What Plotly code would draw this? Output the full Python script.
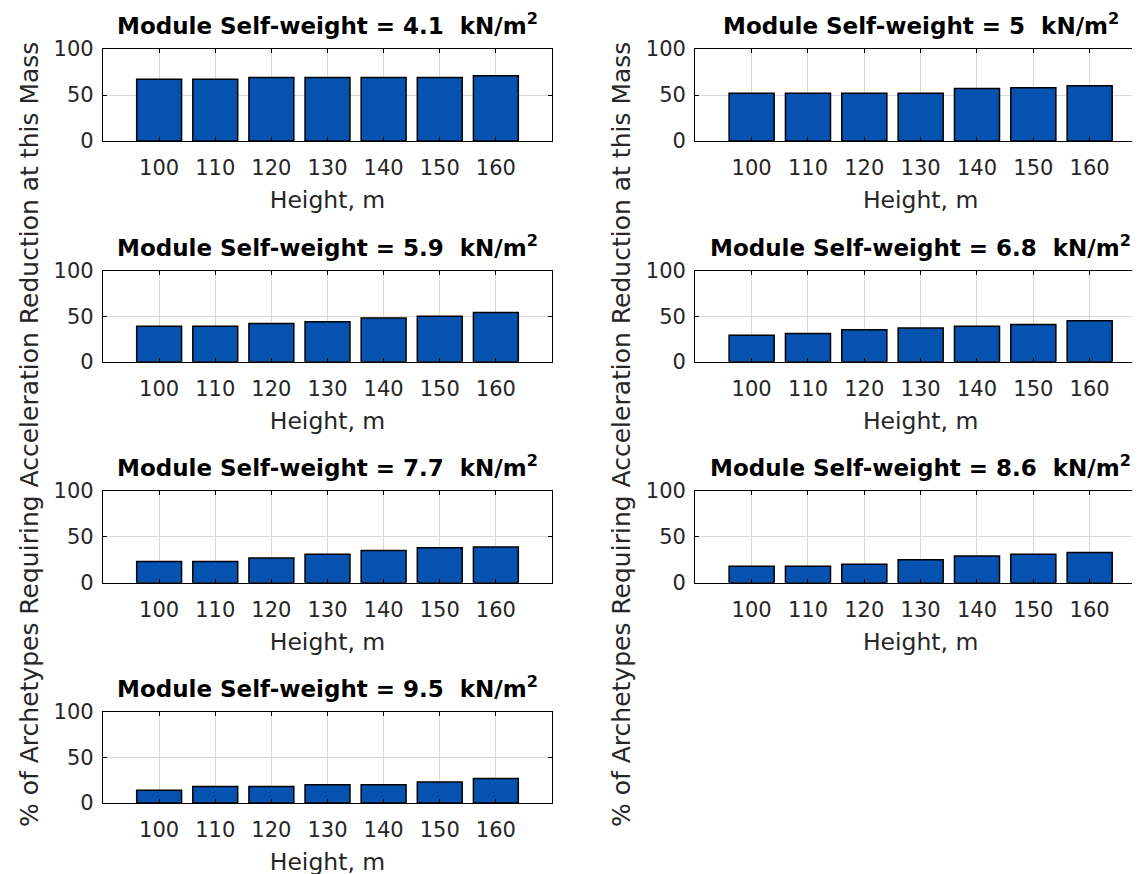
import plotly.graph_objects as go

heights = [100, 110, 120, 130, 140, 150, 160]
weights = ["4.1", "5", "5.9", "6.8", "7.7", "8.6", "9.5"]
pct_41 = [67, 67, 69, 69, 69, 69, 71]
pct_50 = [52, 52, 52, 52, 57, 58, 60]
pct_59 = [39, 39, 42, 44, 48, 50, 54]
pct_68 = [29, 31, 35, 37, 39, 41, 45]
pct_77 = [23, 23, 27, 31, 35, 38, 39]
pct_86 = [18, 18, 20, 25, 29, 31, 33]
pct_95 = [14, 18, 18, 20, 20, 23, 27]
series = [pct_41, pct_50, pct_59, pct_68, pct_77, pct_86, pct_95]
y_ticks = [0, 50, 100]
x_title = "Height, m"
y_title = "% of Archetypes Requiring Acceleration Reduction at this Mass"

W, H = 1140, 874
OFF = 8  # page body margin offset
FONT = "DejaVu Sans"
TXT = "#262626"
BAR = "#0552b0"

# panel geometry in page pixels
col_x = [(103, 552), (695.3, 1146)]
row_y = [(49, 141), (270.7, 361.7), (491, 582.7), (712, 803)]

fig = go.Figure()
layout = dict(
    width=W, height=H, margin=dict(l=0, r=0, t=0, b=0, autoexpand=False),
    paper_bgcolor="white", plot_bgcolor="white", showlegend=False,
    font=dict(family=FONT, color=TXT, size=21), bargap=0.2,
)
annotations = []

for i, (w, vals) in enumerate(zip(weights, series)):
    r, c = divmod(i, 2)
    x0, x1 = (v - OFF for v in col_x[c])
    top, bot = (v - OFF for v in row_y[r])
    k = i + 1
    xa = "x" if k == 1 else f"x{k}"
    ya = "y" if k == 1 else f"y{k}"
    fig.add_trace(go.Bar(
        x=heights, y=vals, xaxis=xa, yaxis=ya, width=8,
        marker=dict(color=BAR, line=dict(color="black", width=1.5)),
    ))
    layout["xaxis" if k == 1 else f"xaxis{k}"] = dict(
        domain=[x0 / W, min(x1 / W, 1.0)], anchor=ya, range=[90, 170],
        tickvals=heights, ticks="inside", ticklen=4, tickcolor="black",
        showline=True, linecolor="black", linewidth=1.3, mirror="ticks",
        showgrid=True, gridcolor="#d9d9d9", gridwidth=1, zeroline=False,
        tickfont=dict(size=21, family=FONT, color=TXT), ticklabelstandoff=8,
        title=dict(text=x_title, font=dict(size=23.5, family=FONT, color=TXT), standoff=12),
        automargin=False, fixedrange=True,
    )
    layout["yaxis" if k == 1 else f"yaxis{k}"] = dict(
        domain=[1 - bot / H, 1 - top / H], anchor=xa, range=[0, 100],
        tickvals=y_ticks, ticks="inside", ticklen=4, tickcolor="black",
        showline=True, linecolor="black", linewidth=1.3, mirror="ticks",
        showgrid=True, gridcolor="#d9d9d9", gridwidth=1, zeroline=False,
        tickfont=dict(size=21, family=FONT, color=TXT), ticklabelstandoff=4,
        automargin=False, fixedrange=True,
    )
    annotations.append(dict(
        x=(x0 + x1) / 2 / W,
        y=1 - (top - 8) / H, xref="paper", yref="paper",
        xanchor="center", yanchor="bottom", showarrow=False,
        text=f"<b>Module Self-weight = {w}\u00a0\u00a0kN/m<sup>2</sup></b>",
        font=dict(size=23, family=FONT, color="black"),
    ))

for xc in (30, 622):
    annotations.append(dict(
        x=(xc - OFF) / W, y=1 - (435 - OFF) / H, xref="paper", yref="paper",
        xanchor="center", yanchor="middle", showarrow=False, textangle=-90,
        text=y_title, font=dict(size=25, family=FONT, color=TXT),
    ))

layout["annotations"] = annotations
fig.update_layout(**layout)
fig.write_html("out.html")
